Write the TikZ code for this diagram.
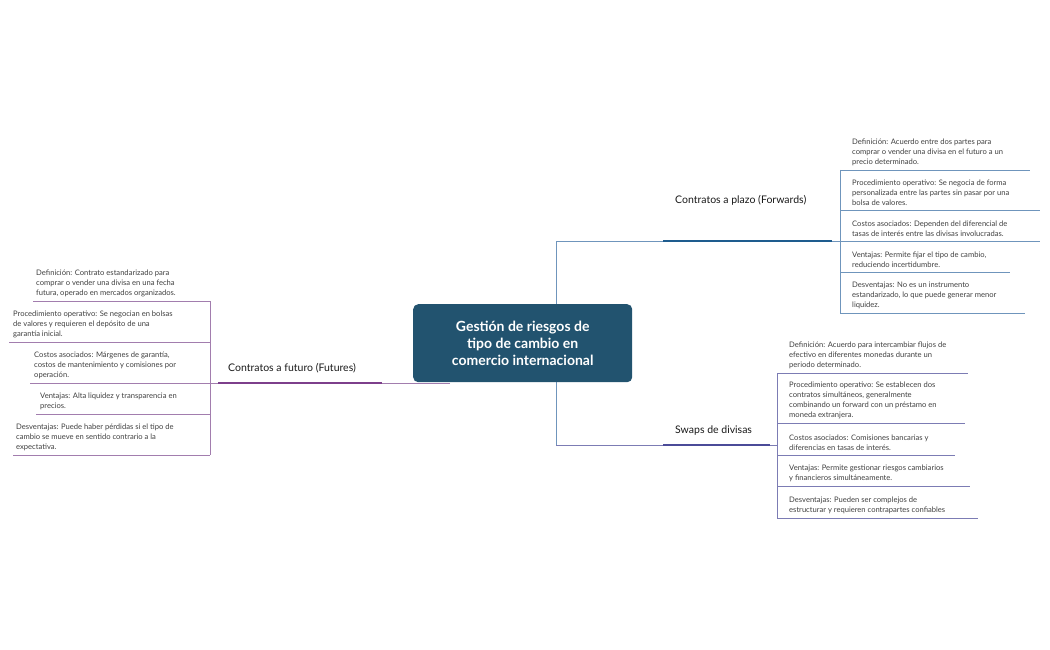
\documentclass[tikz,border=0pt]{standalone}
\usepackage{fontspec}
\setmainfont{Lato}
\begin{document}
\begin{tikzpicture}[x=1pt,y=-1pt,
  leaf/.style={anchor=south west,align=left,inner sep=0pt,font=\fontsize{7.6}{10}\selectfont,text=black!75},
  branch/.style={anchor=south west,inner sep=0pt,font=\fontsize{10.5}{12}\selectfont,text=black!90}]
\useasboundingbox (0,0) rectangle (1050,650);
\definecolor{cbox}{HTML}{22536F}
\definecolor{cfw}{HTML}{1E5C8E}
\definecolor{cfwl}{HTML}{6F95BC}
\definecolor{csw}{HTML}{4B4B98}
\definecolor{cswl}{HTML}{7C7CB4}
\definecolor{cfu}{HTML}{7D3F8B}
\definecolor{cful}{HTML}{A27DAE}
% trunk lines
\coordinate (tTop) at (556,241);
\coordinate (tBot) at (556,445);
\draw[cfwl,line width=0.7] (tTop) -- (tBot);
\coordinate (fwA) at (663,241); \coordinate (fwB) at (832,241);
\coordinate (swA) at (663,445); \coordinate (swB) at (770,445);
\coordinate (fuA) at (382,383); \coordinate (fuB) at (218,383);
\coordinate (cL) at (450,383);
\draw[cfwl,line width=0.7] (tTop) -- (fwA);
\draw[cswl,line width=0.7] (tBot) -- (swA);
\draw[cful,line width=0.7] (cL) -- (fuA);
\node[draw=none,fill=cbox,rounded corners=5pt,minimum width=219,minimum height=78,anchor=north west,
  align=center,text=white,font=\bfseries\fontsize{14}{17}\selectfont] (c) at (413,304)
  {Gestión de riesgos de\\tipo de cambio en\\comercio internacional};
\draw[cfw,line width=2.6] (fwA) -- (fwB);
\draw[csw,line width=2.6] (swA) -- (swB);
\draw[cfu,line width=2.6] (fuA) -- (fuB);
\node[branch] (fw) at (675,206) {Contratos a plazo (Forwards)};
\node[branch] (sw) at (675,435) {Swaps de divisas};
\node[branch] (fu) at (228,373) {Contratos a futuro (Futures)};
% forwards leaves
\draw[cfwl,line width=0.7] (fwB) -- (840,241);
\draw[cfwl,line width=0.7] (840,170) -- (840,313);
\foreach \y/\r in {170/1030,210/1040,241/1040,272/1010,313/1025}{\draw[cfwl,line width=0.7] (840,\y) -- (\r,\y);}
\node[leaf] (f1) at (852,166) {Definición: Acuerdo entre dos partes para\\comprar o vender una divisa en el futuro a un\\precio determinado.};
\node[leaf] (f2) at (852,206) {Procedimiento operativo: Se negocia de forma\\personalizada entre las partes sin pasar por una\\bolsa de valores.};
\node[leaf] (f3) at (852,237) {Costos asociados: Dependen del diferencial de\\tasas de interés entre las divisas involucradas.};
\node[leaf] (f4) at (852,268) {Ventajas: Permite fijar el tipo de cambio,\\reduciendo incertidumbre.};
\node[leaf] (f5) at (852,309) {Desventajas: No es un instrumento\\estandarizado, lo que puede generar menor\\liquidez.};
% swaps leaves
\draw[cswl,line width=0.7] (swB) -- (777,445);
\draw[cswl,line width=0.7] (777,373) -- (777,518);
\foreach \y/\r in {373/968,423/965,455/955,486/970,518/978}{\draw[cswl,line width=0.7] (777,\y) -- (\r,\y);}
\node[leaf] (s1) at (789,369) {Definición: Acuerdo para intercambiar flujos de\\efectivo en diferentes monedas durante un\\periodo determinado.};
\node[leaf] (s2) at (789,419) {Procedimiento operativo: Se establecen dos\\contratos simultáneos, generalmente\\combinando un forward con un préstamo en\\moneda extranjera.};
\node[leaf] (s3) at (789,451) {Costos asociados: Comisiones bancarias y\\diferencias en tasas de interés.};
\node[leaf] (s4) at (789,482) {Ventajas: Permite gestionar riesgos cambiarios\\y financieros simultáneamente.};
\node[leaf] (s5) at (789,514) {Desventajas: Pueden ser complejos de\\estructurar y requieren contrapartes confiables};
% futures leaves
\draw[cful,line width=0.7] (fuB) -- (210,383);
\draw[cful,line width=0.7] (210,301) -- (210,455);
\foreach \y/\l in {301/33,342/9,383/30,414/36,455/13}{\draw[cful,line width=0.7] (\l,\y) -- (210,\y);}
\node[leaf] (u1) at (36,297) {Definición: Contrato estandarizado para\\comprar o vender una divisa en una fecha\\futura, operado en mercados organizados.};
\node[leaf] (u2) at (13,338) {Procedimiento operativo: Se negocian en bolsas\\de valores y requieren el depósito de una\\garantía inicial.};
\node[leaf] (u3) at (34,379) {Costos asociados: Márgenes de garantía,\\costos de mantenimiento y comisiones por\\operación.};
\node[leaf] (u4) at (40,410) {Ventajas: Alta liquidez y transparencia en\\precios.};
\node[leaf] (u5) at (16,451) {Desventajas: Puede haber pérdidas si el tipo de\\cambio se mueve en sentido contrario a la\\expectativa.};
\end{tikzpicture}
\end{document}
